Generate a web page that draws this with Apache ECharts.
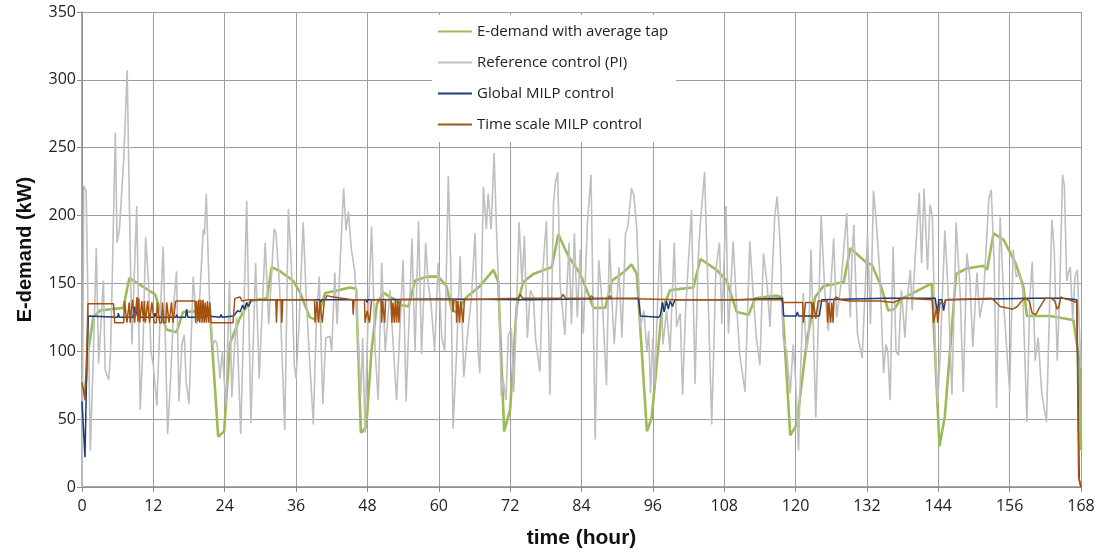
<!DOCTYPE html>
<html>
<head>
<meta charset="utf-8">
<script src="https://cdn.jsdelivr.net/npm/echarts@6/dist/echarts.min.js"></script>
<style>
html,body{margin:0;padding:0;background:#fff;}
#chart{width:1104px;height:554px;}
</style>
</head>
<body>
<div id="chart"></div>
<script>
// Series names (legend order)
const seriesNames = ['E-demand with average tap', 'Reference control (PI)', 'Global MILP control', 'Time scale MILP control'];
// Axis ticks
const xTicks = { min: 0, max: 168, step: 12 };
const yTicks = { min: 0, max: 350, step: 50 };

// [hour, kW] points
const avgTap = [[0,72],[0.5,68],[1.06,100],[1.9,125],[3.0,130],[6.95,132],[7.96,154],[12.3,142],[14.2,116],[15.9,114],[17.0,129],[21.5,130],[22.9,37],[23.9,41],[24.9,106],[26.6,125],[28.25,137],[31.1,139],[31.9,162],[33.3,159],[35.5,152],[36.7,143],[38.3,125],[39.5,123],[40.9,143],[43.1,145],[45.1,147],[46.1,146],[46.9,40],[47.8,44],[48.7,101],[49.6,135],[50.7,143],[52.6,138],[53.8,134],[54.9,133],[56.0,152],[58.0,155],[59.9,155],[61.3,148],[62.2,130],[63.0,129],[64.7,140],[66.9,148],[69.2,160],[70.0,151],[71.0,41],[72.0,57],[73.1,133],[74.2,151],[75.9,157],[79.0,162],[80.1,186],[81.8,170],[83.8,157],[84.9,145],[86.0,132],[88.0,132],[89.1,152],[91.3,159],[92.4,164],[93.3,157],[95.0,41],[95.8,51],[97.5,130],[98.9,145],[100.6,146],[102.8,147],[104.0,168],[106.7,160],[108.4,152],[110.1,129],[112.1,127],[113.2,139],[116.8,141],[117.7,140],[119.1,38],[120.2,46],[121.9,108],[123.3,140],[124.7,148],[128.1,151],[129.2,176],[132.0,165],[132.8,164],[134.2,150],[135.6,130],[136.6,131],[137.6,138],[139.8,143],[142.9,150],[144.2,30],[145.1,52],[147.0,157],[148.8,161],[151.6,163],[152.2,160],[153.3,187],[155.0,182],[157.0,165],[158.3,148],[158.9,126],[162.8,126],[166.7,123],[167.8,91],[168,27]];

const refPI = [[0,0],[0.3,222],[0.7,218],[1.4,27],[1.9,95],[2.4,176],[2.8,91],[3.1,92],[3.6,152],[3.9,86],[4.2,85],[4.5,79],[4.8,100],[5.1,156],[5.3,157],[5.6,261],[5.9,180],[6.3,190],[6.6,190],[7.0,240],[7.6,307],[8.0,200],[8.4,105],[9.2,207],[9.8,57],[10.3,110],[10.7,184],[11.2,150],[11.6,100],[12.0,89],[12.6,60],[13.1,120],[13.65,177],[14.4,39],[14.9,80],[15.5,139],[15.9,159],[16.3,63],[16.8,105],[17.2,112],[17.5,78],[18.0,61],[18.7,155],[19.3,120],[19.8,140],[20.4,190],[20.6,186],[20.9,216],[21.5,130],[22.0,105],[22.4,108],[22.7,106],[23.2,80],[23.6,100],[24.2,60],[24.8,152],[25.2,66],[25.6,100],[26.0,125],[26.7,39],[27.7,211],[28.4,47],[29.2,165],[29.8,80],[30.3,130],[30.8,180],[31.4,120],[31.8,150],[32.3,190],[32.6,188],[33.2,150],[34.1,42],[34.7,205],
[35.2,165],[35.7,90],[36.0,80],[36.5,120],[37.2,195],[37.7,140],[38.2,100],[38.9,46],[39.4,120],[39.9,155],[40.5,61],[41.0,110],[41.7,111],[42.0,100],[42.5,158],[42.9,120],[43.3,155],[44.0,220],[44.4,189],[44.8,203],[45.3,175],[45.9,158],[46.4,110],[46.9,68],[47.2,110],[47.6,40],[48.0,110],[48.7,192],[49.3,100],[49.8,64],[50.4,165],[51.0,100],[51.8,145],[52.4,100],[52.9,64],[54.0,167],[54.5,63],[55.5,183],[56.0,100],[56.6,196],[57.1,98],[57.8,180],[58.2,150],[58.7,135],[59.3,100],[59.9,165],[60.5,110],[61.0,100],[61.6,229],[62.0,167],[62.4,43],[63.0,100],[63.6,170],[64.2,81],[64.9,115],[65.5,140],[66.1,187],[66.6,100],[66.9,84],
[67.5,221],[68.0,190],[68.3,216],[68.8,190],[69.3,246],[69.7,190],[70.2,130],[70.5,67],[70.8,80],[71.3,64],[71.7,112],[72.2,117],[72.6,70],[73.0,120],[73.5,195],[74.0,150],[74.4,185],[74.9,110],[75.4,145],[75.9,140],[76.3,108],[77.0,85],[77.5,160],[78.1,196],[78.7,68],[79.3,210],[79.6,224],[80.0,232],[80.4,150],[81.2,112],[81.9,180],[82.3,120],[82.8,187],[83.3,125],[83.8,175],[84.3,113],[85.0,195],[85.6,230],[86.3,35],[86.9,167],[87.6,128],[88.2,75],[88.7,183],[89.1,140],[89.5,105],[90.3,162],[90.8,110],[91.4,187],[91.8,192],[92.4,220],[92.8,215],[93.3,190],[93.9,118],[94.5,130],[95.0,100],[95.3,115],[95.6,69],[96.0,110],[96.3,75],[97.2,182],[97.7,105],[98.3,130],[98.9,100],[99.6,180],[100.0,118],[100.6,128],
[101.0,68],[101.5,130],[102.5,204],[103.1,76],[103.6,167],[104.0,195],[104.7,232],[105.2,155],[105.9,46],[106.6,160],[107.2,180],[107.6,120],[108.3,207],[108.7,113],[109.5,181],[110.0,140],[110.6,98],[111.5,70],[112.3,181],[112.9,140],[113.4,110],[114.0,90],[114.6,172],[115.2,150],[115.7,118],[116.5,200],[116.9,214],[117.4,180],[117.9,110],[118.5,100],[119.1,69],[119.6,105],[120.0,80],[120.5,27],[120.8,80],[121.3,143],[121.8,100],[122.2,110],[122.6,175],[123.4,51],[124.3,200],[124.9,145],[125.5,115],[126.4,183],[126.9,125],[127.6,148],[128.6,202],[129.2,125],[129.5,170],[129.8,193],[130.4,113],[131.2,95],[131.7,145],[132.1,187],[132.6,120],[133.1,218],[133.5,200],[134.2,155],
[134.8,84],[135.2,105],[135.5,100],[135.9,64],[136.4,177],[136.9,100],[137.3,97],[137.8,145],[138.4,110],[138.7,135],[139.3,160],[139.6,130],[140.2,175],[140.8,217],[141.2,165],[141.6,220],[142.2,160],[142.6,208],[143.0,200],[143.5,100],[143.9,62],[144.3,95],[145.1,189],[145.7,140],[146.3,68],[147.0,195],[147.7,140],[148.2,70],[148.8,172],[149.3,155],[149.8,103],[150.5,158],[151.0,125],[151.6,140],[152.5,212],[152.9,219],[153.4,165],[153.8,58],[154.4,199],[155.1,128],[156.0,70],[156.6,175],[157.1,155],[157.6,157],[158.2,145],[158.9,48],[159.4,140],[159.8,166],[160.3,93],[160.8,110],[161.4,69],[162.2,48],[163.1,197],[163.5,175],[164.0,93],[164.4,140],[164.9,230],[165.2,222],[165.6,152],[165.9,158],[166.2,162],[166.6,123],[167.0,155],[167.4,160],[167.7,120],[168,88]];

const globalMILP = [[0,63],[0.2,63],[0.5,22],[0.8,90],[1.06,126],[6.0,125],[6.1,128],[6.3,125],[8.6,125],[8.8,133],[9.0,126],[9.3,131],[9.5,125],[12.1,125],[12.3,128],[12.5,125],[15.8,125],[15.9,127],[16.1,125],[17.4,125],[17.6,131],[17.8,125],[20.7,125],[20.9,133],[21.1,126],[21.3,125],[23.2,125],[23.4,127],[23.6,125],[25.5,126],[26.2,130],[26.6,129],[27.0,134],[27.3,131],[27.7,136],[28.0,133],[28.5,138],[30,138],[40,138],[40.1,136],[40.3,138],[47.8,138],[47.9,136],[48.1,138],[60,138.5],[75,138],[93.6,139],[93.9,126],[97.0,125],[97.3,127],[97.6,136],[97.9,129],[98.3,137],[98.6,131],[98.9,137],[99.3,133],[99.7,138],[110,138],[117.8,139],[118.0,126],[120.1,126],[120.3,129],[120.5,126],[124.0,126],[124.4,138],[135,139],[143.5,139],[143.8,128],[144.1,138],[144.6,138],[144.9,130],[145.2,138],[160,139],[165,139],[167.3,138],[167.7,5],[168,0]];

const timeScaleMILP = [[0,77],[0.3,70],[0.5,64],[0.8,100],[1.0,135],[5.3,135],[5.5,121],[7.0,121],[7.15,137],[7.4,137],[7.55,121],[7.8,121],[7.95,136],[8.1,121],[8.35,121],[8.5,138],[8.7,138],[8.85,121],[9.1,121],[9.25,140],[9.4,122],[9.55,139],[9.7,121],[9.9,121],[10.05,137],[10.2,137],[10.35,122],[10.5,137],[10.65,121],[10.9,121],[11.05,137],[11.2,137],[11.35,121],[11.6,121],[11.75,136],[12.0,136],[12.15,121],[12.5,121],[12.65,136],[12.9,136],[13.05,121],[13.4,121],[13.55,136],[13.75,121],[14.1,121],[14.25,136],[14.5,136],[14.65,121],[14.9,121],[15.05,136],[15.3,121],[15.6,121],[15.75,137],[19.0,137],[19.1,121],[19.3,137],[19.5,122],[19.65,138],[19.8,121],[20.0,138],[20.2,121],[20.35,138],[20.55,121],[20.7,136],[20.9,121],[21.1,137],[21.3,121],[21.5,136],[21.7,121],[25.4,121],[25.7,139],[26.6,140],[26.9,137],[28,138],[32.6,138],[32.7,121],[32.85,138],[33.5,138],[33.6,121],[33.75,138],[39.1,138],[39.2,121],[39.35,121],[39.5,137],[39.7,137],[39.8,121],[40.0,137],[40.3,137],[40.4,121],[40.6,121],[40.75,137],[41.2,141],[42.2,140],[45.5,138],[45.6,127],[45.75,138],[47.5,138],[47.6,121],[47.8,121],[47.95,130],[48.2,129],[48.35,121],[48.55,121],[48.7,138],[50.3,138],[50.4,121],[50.55,137],[50.8,137],[50.9,121],[51.05,138],[52.0,138],[52.1,121],[52.3,136],[52.5,121],[52.7,138],[52.9,121],[53.1,138],[53.3,121],[53.5,138],[62.3,138],[62.4,129],[62.55,138],[62.9,138],[63.0,121],[63.2,137],[63.5,121],[63.7,137],[64.0,137],[64.1,121],[64.3,138],[73.3,139],[73.7,142],[74.1,139],[80.5,139],[80.9,142],[81.3,139],[85.4,139],[85.7,141],[86.0,139],[88.5,139],[88.8,141],[89.1,139],[100,138],[117.6,138],[117.8,136],[121.2,136],[121.3,121],[121.6,121],[121.7,136],[122.7,136],[122.8,124],[123.0,136],[123.3,136],[123.4,124],[123.7,124],[123.8,137],[125.3,137],[125.4,121],[125.6,136],[125.9,121],[126.1,136],[126.3,121],[126.45,138],[126.8,140],[127.5,138],[129,137],[134.2,137],[136.5,136],[137.5,138],[138,139],[143.0,138],[143.2,121],[143.5,121],[143.7,132],[143.9,121],[144.1,121],[144.3,136],[145.0,135],[145.3,138],[153.0,139],[153.5,137],[154.4,133],[155.5,132],[156.5,131],[157.3,133],[158.0,137],[158.6,139],[159.3,137],[159.8,128],[160.4,127],[161.0,132],[162.0,139],[163.0,139],[163.6,137],[164.0,131],[164.3,133],[164.6,140],[165.0,139],[166.0,138],[167.3,136],[167.6,8],[167.9,8],[168,0]];

const chart = echarts.init(document.getElementById('chart'), null, { renderer: 'canvas' });
const mk = (name, data, color, width, z) => ({
  name, type: 'line', data, showSymbol: false, symbol: 'none', z,
  lineStyle: { color, width }, itemStyle: { color }, animation: false
});
chart.setOption({
  animation: false,
  backgroundColor: '#fff',
  grid: { left: 82, right: 23, top: 12, bottom: 67, containLabel: false },
  legend: {
    data: seriesNames.map(n => ({ name: n, icon: 'rect' })),
    orient: 'vertical', left: 432, top: 15,
    padding: [9, 8, 10, 6], backgroundColor: '#fff',
    itemWidth: 34, itemHeight: 2, itemGap: 16,
    textStyle: { fontFamily: 'Open Sans', fontSize: 15, color: '#222', lineHeight: 15 }
  },
  xAxis: {
    type: 'value', min: xTicks.min, max: xTicks.max, interval: xTicks.step,
    name: 'time (hour)', nameLocation: 'middle', nameGap: 41,
    nameTextStyle: { fontFamily: 'Liberation Sans', fontWeight: 'bold', fontSize: 21, color: '#111' },
    axisLine: { show: true, lineStyle: { color: '#8c8c8c', width: 1.5 } },
    axisTick: { show: true, length: 5, lineStyle: { color: '#8c8c8c' } },
    axisLabel: { fontFamily: 'Open Sans', fontSize: 16, color: '#222', margin: 11 },
    splitLine: { show: true, lineStyle: { color: '#9e9e9e', width: 1 } }
  },
  yAxis: {
    type: 'value', min: yTicks.min, max: yTicks.max, interval: yTicks.step,
    name: 'E-demand (kW)', nameLocation: 'middle', nameGap: 47,
    nameTextStyle: { fontFamily: 'Liberation Sans', fontWeight: 'bold', fontSize: 20, color: '#111' },
    axisLine: { show: true, lineStyle: { color: '#8c8c8c', width: 1.5 } },
    axisTick: { show: true, length: 5, lineStyle: { color: '#8c8c8c' } },
    axisLabel: { fontFamily: 'Open Sans', fontSize: 16, color: '#222', margin: 6 },
    splitLine: { show: true, lineStyle: { color: '#9e9e9e', width: 1 } }
  },
  series: [
    mk(seriesNames[0], avgTap, '#9bbb59', 2.6, 2),
    mk(seriesNames[1], refPI, '#bfbfbf', 1.6, 3),
    mk(seriesNames[2], globalMILP, '#1b3a78', 1.5, 4),
    mk(seriesNames[3], timeScaleMILP, '#a5520f', 1.5, 5)
  ]
});
</script>
</body>
</html>
